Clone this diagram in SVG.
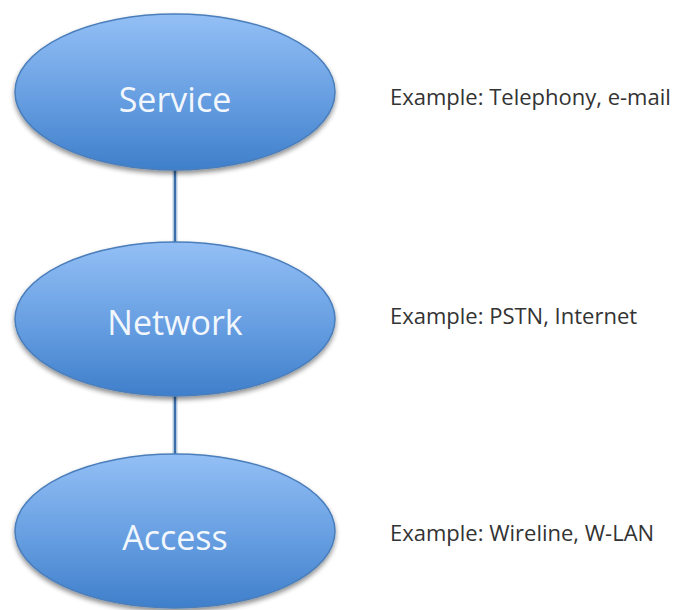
<svg xmlns="http://www.w3.org/2000/svg" width="684" height="610" viewBox="0 0 684 610">
<defs>
<linearGradient id="g" x1="0" y1="0" x2="0" y2="1">
<stop offset="0" stop-color="#93bff5"/>
<stop offset="0.5" stop-color="#6aa1e3"/>
<stop offset="1" stop-color="#3f7fcb"/>
</linearGradient>
<filter id="sh" x="-10%" y="-10%" width="120%" height="130%">
<feGaussianBlur in="SourceAlpha" stdDeviation="2.5"/>
<feOffset dy="3" result="b"/>
<feComponentTransfer><feFuncA type="linear" slope="0.45"/></feComponentTransfer>
<feMerge><feMergeNode/><feMergeNode in="SourceGraphic"/></feMerge>
</filter>
</defs>
<style>
.node{fill:url(#g);stroke:#4a7ebb;stroke-width:1.5;filter:url(#sh)}
.lbl{font-family:"Open Sans","Liberation Sans",sans-serif;font-size:34px;fill:#f2f7fd;text-anchor:middle}
.ex{font-family:"Open Sans","Liberation Sans",sans-serif;font-size:22px;fill:#333333}
.halo{stroke:#b4c8de;stroke-width:5}
.ln{stroke:#3a6eab;stroke-width:2}
</style>
<rect width="684" height="610" fill="#ffffff"/>
<g id="connectors">
<line class="halo" x1="175" y1="170" x2="175" y2="243"/>
<line class="ln" x1="175" y1="170" x2="175" y2="243"/>
<line class="halo" x1="175" y1="396" x2="175" y2="454"/>
<line class="ln" x1="175" y1="396" x2="175" y2="454"/>
</g>
<g id="service">
<ellipse class="node" cx="175" cy="92" rx="160" ry="78"/>
<text class="lbl" x="175" y="112">Service</text>
</g>
<g id="network">
<ellipse class="node" cx="175" cy="319" rx="160" ry="77"/>
<text class="lbl" x="175" y="335">Network</text>
</g>
<g id="access">
<ellipse class="node" cx="175" cy="531" rx="160" ry="77"/>
<text class="lbl" x="175" y="550">Access</text>
</g>
<g id="examples">
<text class="ex" x="390" y="105">Example: Telephony, e-mail</text>
<text class="ex" x="390" y="324">Example: PSTN, Internet</text>
<text class="ex" x="390" y="541">Example: Wireline, W-LAN</text>
</g>
</svg>
